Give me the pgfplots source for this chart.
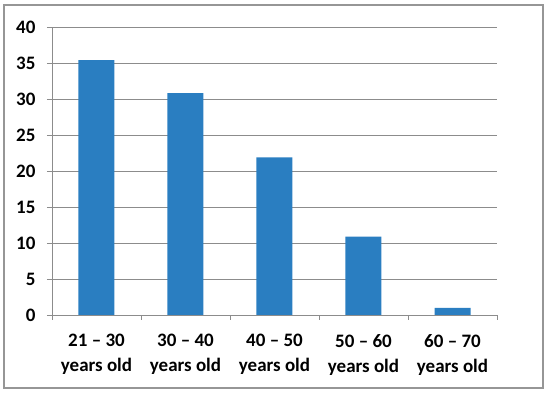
\documentclass[border=0pt]{standalone}
\usepackage{pgfplots}
\pgfplotsset{compat=1.18}
\usepackage{fontspec}
\setmainfont{Carlito}
\definecolor{barblue}{RGB}{42,126,193}
\definecolor{gridgray}{RGB}{140,140,140}
\definecolor{framegray}{RGB}{150,150,150}
\begin{document}
\begin{tikzpicture}[x=1pt,y=1pt]
\useasboundingbox (-52,-78) rectangle (498,315);
\draw[framegray, line width=1.2pt] (-48,-73) rectangle (491,310);
\begin{axis}[
  at={(0,0)}, anchor=south west,
  scale only axis, width=445pt, height=288pt,
  xmin=-0.5, xmax=4.5, ymin=0, ymax=40,
  axis lines*=left,
  axis line style={gridgray, line width=0.8pt},
  ytick={0,5,...,40},
  ymajorgrids, grid style={gridgray, line width=0.8pt},
  xtick={0,1,2,3,4},
  xticklabels={{21 – 30\\years old},{30 – 40\\years old},{40 – 50\\years old},{50 – 60\\years old},{60 – 70\\years old}},
  x tick label style={align=center, font=\fontsize{19}{25}\selectfont\bfseries, yshift=-11pt},
  y tick label style={font=\fontsize{19}{22}\selectfont\bfseries, xshift=-8pt},
  /pgf/number format/assume math mode=true,
  major x tick style={draw=none},
  minor xtick={-0.5,0.5,...,4.5},
  minor x tick style={gridgray, line width=0.8pt},
  minor tick length=5pt,
  major tick length=5pt,
  y tick style={gridgray, line width=0.8pt},
  tick align=outside,
  ybar, bar width=36pt,
]
\addplot[fill=barblue, draw=none] coordinates {(0,35.4) (1,30.8) (2,21.9) (3,10.9) (4,1.0)};
\end{axis}
\end{tikzpicture}
\end{document}
